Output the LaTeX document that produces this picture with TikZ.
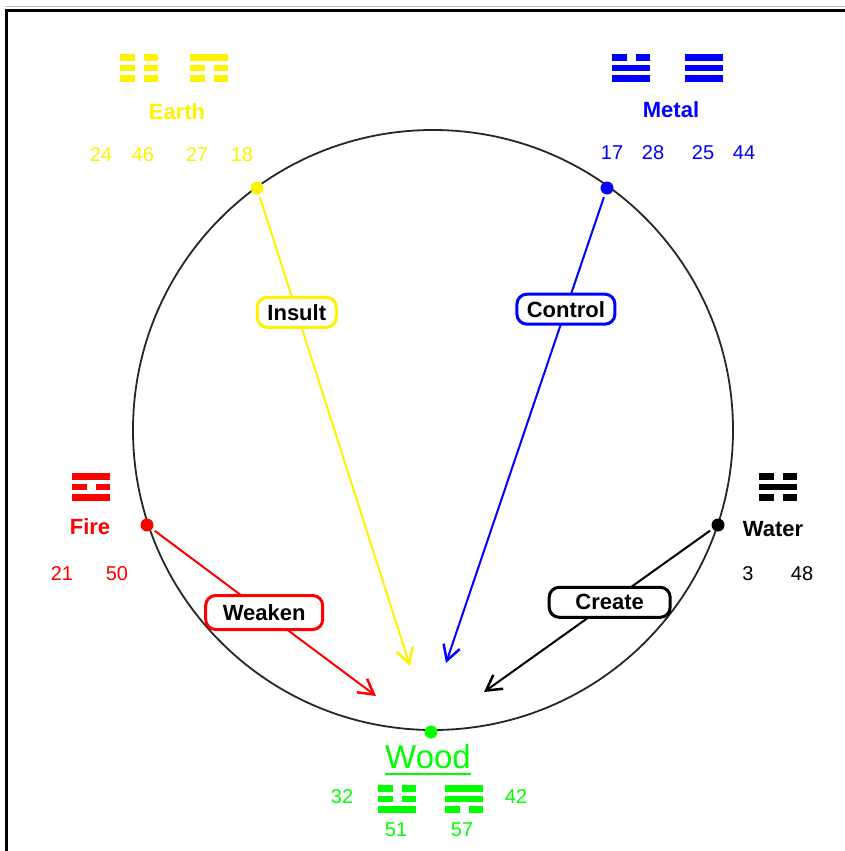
\documentclass[tikz,border=0pt]{standalone}
\usepackage{fontspec}
\setmainfont{Liberation Sans}
\usetikzlibrary{arrows.meta}

\tikzset{
  num/.style={font=\fontsize{20}{22}\selectfont, inner sep=0pt},
  elem/.style={font=\bfseries\fontsize{22}{24}\selectfont, inner sep=0pt},
  dot/.style={circle, fill, inner sep=0pt, minimum size=13pt},
  arr/.style={line width=2pt, shorten <=3pt, -{Straight Barb[length=15pt, width=17pt, line width=2.5pt]}},
  tag/.style={draw, line width=3pt, rounded corners=10pt, fill=white, text=black,
    font=\bfseries\fontsize{22}{24}\selectfont, inner xsep=6pt, inner ysep=0pt, minimum height=30pt},
  pics/trigram/.style n args={3}{code={
    \foreach \v [count=\i] in {#1,#2,#3} {
      \pgfmathsetmacro{\yy}{(\i-2)*10.5}
      \ifnum\v=1
        \fill (-19,\yy-3.4) rectangle (19,\yy+3.4);
      \else
        \fill (-19,\yy-3.4) rectangle (-4.5,\yy+3.4);
        \fill (4.5,\yy-3.4) rectangle (19,\yy+3.4);
      \fi
    }
  }}
}

\begin{document}
\begin{tikzpicture}[x=1pt, y=-1pt]
  \useasboundingbox (0,0) rectangle (845,851);

  % Frame
  \draw[black!25, line width=1pt] (5,7) -- (845,7);
  \draw[line width=3.5pt] (6.5,851) -- (6.5,10.5) -- (845,10.5);

  % Cycle
  \coordinate (ctr) at (433,430);
  \draw[black!85, line width=1.8pt] (ctr) circle[radius=300pt];

  % Earth
  \pic[yellow] at (139,68) {trigram={0}{0}{0}};
  \pic[yellow] at (209,68) {trigram={1}{0}{0}};
  \node[elem, yellow] (earth) at (177,112) {Earth};
  \node[num, yellow] (e24) at (101,155) {24};
  \node[num, yellow] (e46) at (143,155) {46};
  \node[num, yellow] (e27) at (197,155) {27};
  \node[num, yellow] (e18) at (242,155) {18};

  % Metal
  \pic[blue] at (631,68) {trigram={0}{1}{1}};
  \pic[blue] at (704,68) {trigram={1}{1}{1}};
  \node[elem, blue] (metal) at (671,110) {Metal};
  \node[num, blue] (m17) at (612,153) {17};
  \node[num, blue] (m28) at (653,153) {28};
  \node[num, blue] (m25) at (703,153) {25};
  \node[num, blue] (m44) at (744,153) {44};

  % Fire
  \pic[red] at (91,487) {trigram={1}{0}{1}};
  \node[elem, red] (fire) at (90,527) {Fire};
  \node[num, red] (f21) at (62,574) {21};
  \node[num, red] (f50) at (117,574) {50};

  % Water
  \pic[black] at (778,487) {trigram={0}{1}{0}};
  \node[elem] (water) at (773,529) {Water};
  \node[num] (w3) at (748,574) {3};
  \node[num] (w48) at (802,574) {48};

  % Wood
  \node[font=\fontsize{33}{36}\selectfont, inner sep=0pt, green] (wood) at (428,757) {Wood};
  \draw[green, line width=2pt] ([yshift=-5pt]wood.base west) -- ([yshift=-5pt]wood.base east);
  \node[num, green] (d32) at (342,797) {32};
  \pic[green] at (397,799) {trigram={0}{0}{1}};
  \pic[green] at (464,799) {trigram={1}{1}{0}};
  \node[num, green] (d42) at (516,797) {42};
  \node[num, green] (d51) at (396,830) {51};
  \node[num, green] (d57) at (462,830) {57};

  % Dots on the circle
  \node[dot, yellow] (earthdot) at (257,188) {};
  \node[dot, blue] (metaldot) at (607,188) {};
  \node[dot, red] (firedot) at (147,525) {};
  \node[dot, black] (waterdot) at (718,525) {};
  \node[dot, green] (wooddot) at (431,732) {};

  % Arrow tips
  \coordinate (tipY) at (410,666);
  \coordinate (tipB) at (446,663);
  \coordinate (tipR) at (376,696);
  \coordinate (tipK) at (484,692);

  % Draw arrows
  \draw[arr, yellow] (earthdot) -- node[tag, draw=yellow, pos=0.25, minimum width=79pt] {Insult} (tipY);
  \draw[arr, blue] (metaldot) -- node[tag, draw=blue, pos=0.245, minimum width=98pt] {Control} (tipB);
  \draw[arr, red] (firedot) -- node[tag, draw=red, pos=0.5, minimum width=117pt, minimum height=34pt] {Weaken} (tipR);
  \draw[arr, black] (waterdot) -- node[tag, draw=black, pos=0.45, minimum width=121pt] {Create} (tipK);
\end{tikzpicture}
\end{document}
